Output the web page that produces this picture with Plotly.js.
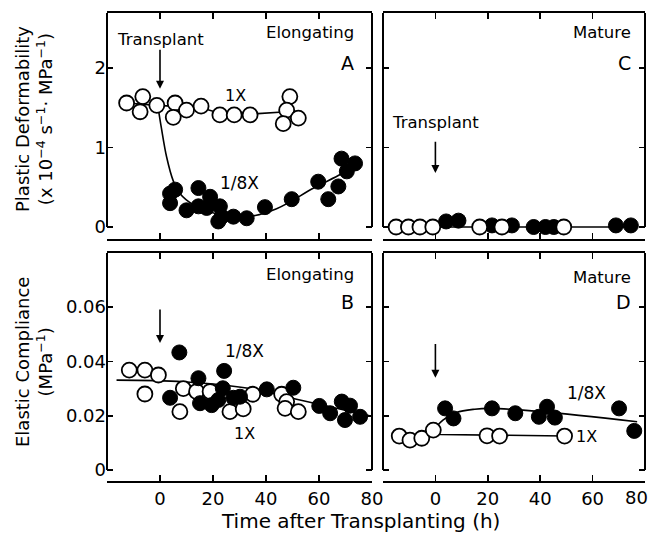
<!DOCTYPE html>
<html><head><meta charset="utf-8">
<script src="https://cdn.plot.ly/plotly-3.0.1.min.js"></script>
<style>html,body{margin:0;padding:0;background:#fff}</style>
</head><body>
<div id="chart" style="width:652px;height:535px"></div>
<script>
// ---------- data ----------
// Panel A: plastic deformability, elongating zone
const A_1x_t   = [-12.6,-6.5,-7.5,-1.2,5.7,5.0,10.0,15.5,22.6,28.0,34.0,49.0,47.8,46.5,52.2];
const A_1x_v   = [1.56,1.64,1.45,1.53,1.56,1.38,1.47,1.52,1.41,1.41,1.41,1.64,1.47,1.30,1.37];
const A_8x_t   = [3.8,5.7,3.8,10.0,14.5,14.5,18.9,17.6,22.6,23.3,22.0,27.7,32.7,39.6,49.7,59.7,63.5,67.3,68.5,70.5,73.6];
const A_8x_v   = [0.42,0.47,0.30,0.21,0.49,0.26,0.38,0.24,0.26,0.13,0.07,0.13,0.11,0.25,0.35,0.57,0.35,0.51,0.86,0.70,0.80];
const A_fit1x_t = [-12.6,-1.0,15.5,22.6,34.0,47.8];
const A_fit1x_v = [1.56,1.53,1.50,1.43,1.42,1.45];
const A_fit8x_t = [-0.6,0.5,2.5,5.0,7.5,12.5,19.0,25.0,33.0,44.0,58.0,68.0,71.0];
const A_fit8x_v = [1.48,1.25,0.88,0.58,0.42,0.28,0.19,0.15,0.13,0.23,0.49,0.66,0.72];
// Panel C: plastic deformability, mature zone
const C_1x_t   = [-15.0,-10.3,-5.9,-1.0,16.9,25.4,49.0];
const C_1x_v   = [0.0,0.0,0.0,0.0,0.0,0.0,0.0];
const C_8x_t   = [4.1,8.8,21.6,29.2,37.5,42.0,45.2,68.9,74.6];
const C_8x_v   = [0.07,0.08,0.02,0.02,0.0,0.0,0.0,0.02,0.02];
const C_fit_t  = [-15.0,75.0];
const C_fit_v  = [0.0,0.0];
// Panel B: elastic compliance, elongating zone
const B_1x_t   = [-11.6,-5.7,-0.6,-5.7,8.8,7.5,13.8,18.9,26.4,31.4,35.0,45.9,47.8,47.2,52.2];
const B_1x_v   = [0.0368,0.0368,0.0350,0.0280,0.0300,0.0215,0.0289,0.0289,0.0215,0.0225,0.0279,0.0279,0.0252,0.0227,0.0215];
const B_8x_t   = [7.3,3.8,14.5,15.1,19.5,24.2,23.7,22.0,27.7,30.2,40.3,50.3,60.1,64.2,68.6,71.7,69.8,75.5];
const B_8x_v   = [0.0433,0.0266,0.0338,0.0246,0.0239,0.0365,0.0301,0.0258,0.0266,0.0270,0.0297,0.0303,0.0236,0.0209,0.0252,0.0237,0.0184,0.0196];
const B_fit_t  = [-16.4,8.8,35.3,52.8,80.0];
const B_fit_v  = [0.0331,0.0325,0.0298,0.0258,0.0198];
// Panel D: elastic compliance, mature zone
const D_1x_t   = [-13.8,-9.7,-5.2,-0.8,19.7,24.5,49.3];
const D_1x_v   = [0.0125,0.0110,0.0117,0.0147,0.0126,0.0125,0.0125];
const D_8x_t   = [3.7,6.9,21.6,30.5,39.5,42.6,45.6,70.1,75.9];
const D_8x_v   = [0.0227,0.0190,0.0227,0.0209,0.0196,0.0233,0.0193,0.0227,0.0144];
const D_fit1x_t = [-13.8,-0.8,2.0,49.3];
const D_fit1x_v = [0.0125,0.0135,0.0131,0.0125];
const D_fit8x_t = [-0.8,3.0,8.0,15.0,21.0,40.5,77.0];
const D_fit8x_v = [0.0147,0.0185,0.0212,0.0224,0.0227,0.0215,0.0178];
// ticks
const xTickVals  = [-20,0,20,40,60,80];
const xTickText  = ['','0','20','40','60','80'];
const xTickTextR = ['','0','20','40','60',''];   // last "80" of the right panel is placed as a label so it stays inside the page
const xLastLabel = '80';
const yTopVals  = [0,1,2];
const yTopText  = ['0','1','2'];
const yBotVals  = [0,0.02,0.04,0.06];
const yBotText  = ['0','0.02','0.04','0.06'];

// ---------- geometry (pixels) ----------
const W = 652, H = 535;
const px = v => v / W, py = v => 1 - v / H;
const colL = [107, 372], colR = [383, 645];
const rowT = {top: 13, zero: 227, axis: 239}, rowB = {top: 253, zero: 470, axis: 481};
const rngT = [-(rowT.axis-rowT.zero)/79.5, (rowT.zero-rowT.top)/79.5];
const rngB = [-(rowB.axis-rowB.zero)/2715, (rowB.zero-rowB.top)/2715];

const FONT = 'DejaVu Sans';
const openM = {symbol:'circle', size:15, color:'#fff', line:{color:'#000', width:1.8}};
const fillM = {symbol:'circle', size:15, color:'#000', line:{color:'#000', width:1}};
function fit(x,y,xa,ya,shape){return {x:x,y:y,xaxis:xa,yaxis:ya,mode:'lines',line:{color:'#000',width:1.6,shape:shape||'linear',smoothing:1},hoverinfo:'skip',showlegend:false,cliponaxis:false};}
function pts(x,y,xa,ya,m){return {x:x,y:y,xaxis:xa,yaxis:ya,mode:'markers',marker:m,showlegend:false,cliponaxis:false};}

const traces = [
  fit(A_fit1x_t,A_fit1x_v,'x','y'), fit(A_fit8x_t,A_fit8x_v,'x','y','spline'),
  pts(A_1x_t,A_1x_v,'x','y',openM), pts(A_8x_t,A_8x_v,'x','y',fillM),
  fit(C_fit_t,C_fit_v,'x2','y2'),
  pts(C_8x_t,C_8x_v,'x2','y2',fillM), pts(C_1x_t,C_1x_v,'x2','y2',openM),
  fit(B_fit_t,B_fit_v,'x3','y3','spline'),
  pts(B_1x_t,B_1x_v,'x3','y3',openM), pts(B_8x_t,B_8x_v,'x3','y3',fillM),
  fit(D_fit1x_t,D_fit1x_v,'x4','y4'), fit(D_fit8x_t,D_fit8x_v,'x4','y4','spline'),
  pts(D_1x_t,D_1x_v,'x4','y4',openM), pts(D_8x_t,D_8x_v,'x4','y4',fillM)
];

function xax(col, row, ya, labels, text){
  return {domain:[px(col[0]),px(col[1])], anchor:ya, range:[-20,80], showgrid:false, zeroline:false,
    showline:true, linecolor:'#000', linewidth:2, mirror:'ticks', ticks:'inside', ticklen:6, tickwidth:1.6, tickcolor:'#000',
    tickvals:xTickVals, ticktext:text||xTickText, showticklabels:labels, ticklabeloverflow:'allow',
    tickfont:{family:FONT,size:18,color:'#000'}, fixedrange:true};
}
function yax(row, rng, xa, vals, text, labels){
  return {domain:[py(row.axis),py(row.top)], anchor:xa, range:rng, showgrid:false, zeroline:false,
    showline:false, mirror:'ticks', ticks:'inside', ticklen:6, tickwidth:1.6, tickcolor:'#000',
    tickvals:vals, ticktext:text, showticklabels:labels, ticklabeloverflow:'allow',
    tickfont:{family:FONT,size:18,color:'#000'}, fixedrange:true};
}

const shapes = [];
[[colL,rowT],[colR,rowT],[colL,rowB],[colR,rowB]].forEach(([c,r])=>{
  [c[0],c[1]].forEach(xx=>shapes.push({type:'line',xref:'paper',yref:'paper',x0:px(xx),x1:px(xx),y0:py(r.zero),y1:py(r.top),line:{color:'#000',width:2}}));
});

const tf = (s)=>({family:FONT,size:s,color:'#000'});
function lab(text,x,y,size,xanchor){return {text:text,xref:'paper',yref:'paper',x:px(x),y:py(y),xanchor:xanchor||'center',yanchor:'middle',showarrow:false,font:tf(size)};}
function arrow(xa,ya,x,yHead,yTail){return {text:'',xref:xa,yref:ya,axref:xa,ayref:ya,x:x,y:yHead,ax:x,ay:yTail,showarrow:true,arrowhead:2,arrowsize:1,arrowwidth:1.6,arrowcolor:'#000'};}
function dlab(text,xa,ya,x,y,size,xanchor){return {text:text,xref:xa,yref:ya,x:x,y:y,xanchor:xanchor||'center',yanchor:'middle',showarrow:false,font:tf(size)};}

const annotations = [
  dlab('Transplant','x','y',0,2.36,16.5), arrow('x','y',0,1.74,2.25),
  lab('Elongating',356,33,16.5,'right'), lab('A',356,63,19,'right'),
  dlab('1X','x','y',28.4,1.66,16), dlab('1/8X','x','y',30,0.55,17),
  dlab('Transplant','x2','y2',0,1.31,16.5), arrow('x2','y2',0,0.68,1.09),
  lab('Mature',633,33,16.5,'right'), lab('C',633,63,19,'right'),
  arrow('x3','y3',0,0.0468,0.0597),
  lab('Elongating',356,275,16.5,'right'), lab('B',356,302,19,'right'),
  dlab('1/8X','x3','y3',32,0.044,17), dlab('1X','x3','y3',32,0.0136,16),
  arrow('x4','y4',0,0.034,0.047),
  lab('Mature',633,277,16.5,'right'), lab('D',633,302,19,'right'),
  dlab('1/8X','x4','y4',57.5,0.0284,17), dlab('1X','x4','y4',53,0.0122,16,'left'),
  lab(xLastLabel,650,497,18,'right'),
  {text:'Plastic Deformability<br>(x 10<sup>−4</sup> s<sup>−1</sup>· MPa<sup>−1</sup>)',xref:'paper',yref:'paper',x:px(34),y:py(119),xanchor:'center',yanchor:'middle',textangle:-90,showarrow:false,font:tf(18)},
  {text:'Elastic Compliance<br>(MPa<sup>−1</sup>)',xref:'paper',yref:'paper',x:px(34),y:py(362),xanchor:'center',yanchor:'middle',textangle:-90,showarrow:false,font:tf(18)},
  lab('Time after Transplanting (h)',360,521,20)
];

const layout = {
  width:W, height:H, margin:{l:0,r:0,t:0,b:0}, paper_bgcolor:'#fff', plot_bgcolor:'rgba(0,0,0,0)',
  showlegend:false, font:{family:FONT,color:'#000'},
  xaxis: xax(colL,rowT,'y',false),  yaxis: yax(rowT,rngT,'x',yTopVals,yTopText,true),
  xaxis2:xax(colR,rowT,'y2',false), yaxis2:yax(rowT,rngT,'x2',yTopVals,yTopText,false),
  xaxis3:xax(colL,rowB,'y3',true),  yaxis3:yax(rowB,rngB,'x3',yBotVals,yBotText,true),
  xaxis4:xax(colR,rowB,'y4',true,xTickTextR),  yaxis4:yax(rowB,rngB,'x4',yBotVals,yBotText,false),
  shapes:shapes, annotations:annotations
};
Plotly.newPlot('chart', traces, layout, {staticPlot:true, displayModeBar:false});
</script>
</body></html>
